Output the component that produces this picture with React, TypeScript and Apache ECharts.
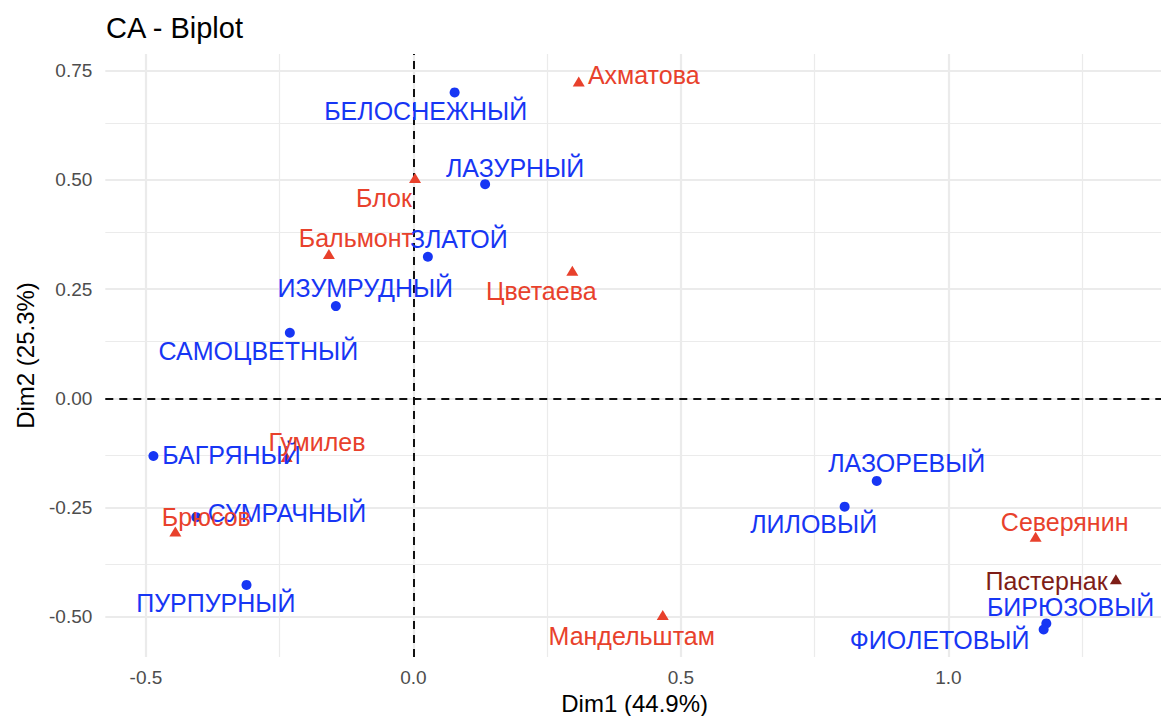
import React, { useEffect, useRef } from "react";
import * as echarts from "echarts";

// Column points (colour words) — coordinates on Dim1 / Dim2
const colNames = [
  "БЕЛОСНЕЖНЫЙ", "ЛАЗУРНЫЙ", "ЗЛАТОЙ", "ИЗУМРУДНЫЙ", "САМОЦВЕТНЫЙ", "БАГРЯНЫЙ",
  "СУМРАЧНЫЙ", "ПУРПУРНЫЙ", "ЛАЗОРЕВЫЙ", "ЛИЛОВЫЙ", "БИРЮЗОВЫЙ", "ФИОЛЕТОВЫЙ",
];
const colDim1 = [0.077, 0.134, 0.027, -0.145, -0.231, -0.486, -0.406, -0.312, 0.866, 0.806, 1.183, 1.178];
const colDim2 = [0.700, 0.490, 0.324, 0.211, 0.150, -0.132, -0.272, -0.427, -0.189, -0.248, -0.515, -0.529];

// Row points (poets)
const rowNames = [
  "Ахматова", "Блок", "Бальмонт", "Цветаева", "Гумилев", "Брюсов",
  "Мандельштам", "Северянин", "Пастернак",
];
const rowDim1 = [0.309, 0.003, -0.158, 0.297, -0.237, -0.445, 0.466, 1.163, 1.313];
const rowDim2 = [0.725, 0.504, 0.330, 0.292, -0.134, -0.305, -0.496, -0.317, -0.414];
const highlightedRow = "Пастернак";

// Axis breaks
const xMajor = [-0.5, 0, 0.5, 1.0];
const xMajorLabels = ["-0.5", "0.0", "0.5", "1.0"];
const xMinor = [-0.25, 0.25, 0.75, 1.25];
const yMajor = [-0.5, -0.25, 0, 0.25, 0.5, 0.75];
const yMajorLabels = ["-0.50", "-0.25", "0.00", "0.25", "0.50", "0.75"];
const yMinor = [-0.375, -0.125, 0.125, 0.375, 0.625];

// Repelled label placement (pixel shift from each point)
const labelOffsets: Record<string, [number, number]> = {
  "БЕЛОСНЕЖНЫЙ": [-29, 19],
  "ЛАЗУРНЫЙ": [30, -16.6],
  "ЗЛАТОЙ": [31, -18],
  "ИЗУМРУДНЫЙ": [29.5, -17.7],
  "САМОЦВЕТНЫЙ": [-31.5, 18],
  "БАГРЯНЫЙ": [78, -1],
  "СУМРАЧНЫЙ": [90.7, -4.5],
  "ПУРПУРНЫЙ": [-30.7, 18],
  "ЛАЗОРЕВЫЙ": [30, -18],
  "ЛИЛОВЫЙ": [-31, 17.5],
  "БИРЮЗОВЫЙ": [24.3, -16.3],
  "ФИОЛЕТОВЫЙ": [-104, 10.7],
  "Ахматова": [65, -6.7],
  "Блок": [-31, 20],
  "Бальмонт": [27, -15.7],
  "Цветаева": [-31, 20],
  "Гумилев": [30.3, -15],
  "Брюсов": [31, -14.5],
  "Мандельштам": [-31, 20.5],
  "Северянин": [29, -15],
  "Пастернак": [-69.3, 2],
};

const FONT = "'Liberation Sans', Arial, Helvetica, sans-serif";
const BLUE = "#1736F4";
const RED = "#E8412C";
const DARK_RED = "#7E1D17";
const GRID = "#EBEBEB";

function expand(values: number[]): [number, number] {
  const lo = Math.min(...values);
  const hi = Math.max(...values);
  const pad = (hi - lo) * 0.05;
  return [lo - pad, hi + pad];
}

function pointItems(names: string[], xs: number[], ys: number[]) {
  return names.map((name, i) => ({
    name,
    value: [xs[i], ys[i]],
    label: { offset: labelOffsets[name] || [0, 0] },
  }));
}

export default function App() {
  const ref = useRef<HTMLDivElement>(null);

  useEffect(() => {
    if (!ref.current) return;
    const chart = echarts.init(ref.current, undefined, { renderer: "svg" });

    const [xMin, xMax] = expand([...colDim1, ...rowDim1]);
    const [yMin, yMax] = expand([...colDim2, ...rowDim2]);

    const colItems = pointItems(colNames, colDim1, colDim2);
    const allRows = pointItems(rowNames, rowDim1, rowDim2);
    const rowItems = allRows.filter((d) => d.name !== highlightedRow);
    const hiItems = allRows.filter((d) => d.name === highlightedRow);

    const labelStyle = (color: string) => ({
      show: true,
      position: "inside",
      formatter: "{b}",
      color,
      fontSize: 25,
      fontFamily: FONT,
    });

    const lineData = (vals: number[], key: "xAxis" | "yAxis") => vals.map((v) => ({ [key]: v }));

    const option: any = {
      animation: false,
      backgroundColor: "#fff",
      title: {
        text: "CA - Biplot",
        left: 101,
        top: 8,
        textStyle: { fontSize: 29, fontWeight: "normal", color: "#000", fontFamily: FONT },
      },
      grid: {
        left: 105.3,
        top: 54.1,
        width: 1058.7,
        height: 602.8,
        containLabel: false,
        outerBoundsMode: "none",
      },
      xAxis: {
        type: "value",
        min: xMin,
        max: xMax,
        name: "Dim1 (44.9%)",
        nameLocation: "middle",
        nameGap: 35,
        nameTextStyle: { fontSize: 24, color: "#000", fontFamily: FONT },
        axisLine: { show: false },
        axisTick: { show: true, customValues: xMajor, length: 6, lineStyle: { color: "#333", width: 1.6 } },
        axisLabel: {
          customValues: xMajor,
          margin: 11,
          fontSize: 19,
          color: "#4D4D4D",
          fontFamily: FONT,
          formatter: (v: number) => {
            const i = xMajor.findIndex((t) => Math.abs(t - v) < 1e-9);
            return i >= 0 ? xMajorLabels[i] : "";
          },
        },
        splitLine: { show: false },
      },
      yAxis: {
        type: "value",
        min: yMin,
        max: yMax,
        name: "Dim2 (25.3%)",
        nameLocation: "middle",
        nameGap: 68,
        nameTextStyle: { fontSize: 24, color: "#000", fontFamily: FONT },
        axisLine: { show: false },
        axisTick: { show: true, customValues: yMajor, length: 6, lineStyle: { color: "#333", width: 1.6 } },
        axisLabel: {
          customValues: yMajor,
          margin: 13,
          fontSize: 19,
          color: "#4D4D4D",
          fontFamily: FONT,
          formatter: (v: number) => {
            const i = yMajor.findIndex((t) => Math.abs(t - v) < 1e-9);
            return i >= 0 ? yMajorLabels[i] : "";
          },
        },
        splitLine: { show: false },
      },
      series: [
        {
          // panel grid: minor then major lines
          type: "scatter",
          data: [],
          silent: true,
          z: 1,
          markLine: {
            silent: true,
            symbol: "none",
            z: 1,
            label: { show: false },
            emphasis: { disabled: true },
            lineStyle: { color: GRID, width: 1.2, type: "solid" },
            data: [...lineData(xMinor, "xAxis"), ...lineData(yMinor, "yAxis")],
          },
        },
        {
          type: "scatter",
          data: [],
          silent: true,
          z: 1,
          markLine: {
            silent: true,
            symbol: "none",
            z: 1,
            label: { show: false },
            emphasis: { disabled: true },
            lineStyle: { color: GRID, width: 2.2, type: "solid" },
            data: [...lineData(xMajor, "xAxis"), ...lineData(yMajor, "yAxis")],
          },
        },
        {
          // reference lines through the origin
          type: "scatter",
          data: [],
          silent: true,
          z: 2,
          markLine: {
            silent: true,
            symbol: "none",
            z: 2,
            label: { show: false },
            emphasis: { disabled: true },
            lineStyle: { color: "#111", width: 2, type: [8, 6] },
            data: [{ xAxis: 0 }, { yAxis: 0 }],
          },
        },
        {
          name: "columns",
          type: "scatter",
          z: 10,
          symbol: "circle",
          symbolSize: 10,
          itemStyle: { color: BLUE, opacity: 1 },
          label: labelStyle(BLUE),
          data: colItems,
        },
        {
          name: "rows",
          type: "scatter",
          z: 10,
          symbol: "triangle",
          symbolSize: [12, 10],
          itemStyle: { color: RED, opacity: 1 },
          label: labelStyle(RED),
          data: rowItems,
        },
        {
          name: "highlighted",
          type: "scatter",
          z: 10,
          symbol: "triangle",
          symbolSize: [12, 10],
          itemStyle: { color: DARK_RED, opacity: 1 },
          label: labelStyle(DARK_RED),
          data: hiItems,
        },
      ],
    };

    chart.setOption(option);
    return () => chart.dispose();
  }, []);

  return (
    <div
      ref={ref}
      style={{ position: "fixed", left: 0, top: 0, width: 1161, height: 716, background: "#fff" }}
    />
  );
}
